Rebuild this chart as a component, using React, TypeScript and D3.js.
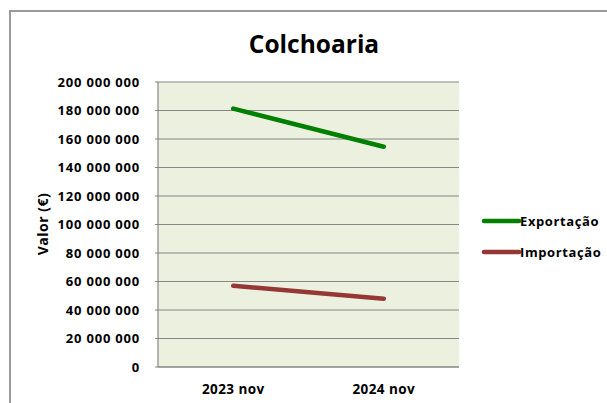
import React from "react";
import * as d3 from "d3";

const categories = ["2023 nov", "2024 nov"];
const exportacao = [181300000, 154600000];
const importacao = [57000000, 47900000];
const yTicks = [0, 20000000, 40000000, 60000000, 80000000, 100000000, 120000000, 140000000, 160000000, 180000000, 200000000];
const seriesNames = ["Exportação", "Importação"];
const seriesColors = ["#008000", "#953735"];

const W = 607, H = 403;
const plot = { left: 158, right: 459, top: 82, bottom: 367 };
const FONT = "'Open Sans', 'Liberation Sans', sans-serif";

function fmt(v: number) {
  if (v === 0) return "0";
  const s = String(v);
  return s.replace(/\B(?=(\d{3})+(?!\d))/g, " ");
}

export default function App() {
  const x = d3.scaleBand<string>().domain(categories).range([plot.left, plot.right]);
  const y = d3.scaleLinear().domain([0, 200000000]).range([plot.bottom, plot.top]);
  const line = d3
    .line<number>()
    .x((_, i) => (x(categories[i]) as number) + x.bandwidth() / 2)
    .y((d) => y(d));
  const series = [exportacao, importacao];
  const legendY = [221, 252];

  return (
    <svg width={W} height={H} style={{ position: "absolute", left: 0, top: 0 }} fontFamily={FONT}>
      <rect x={0} y={0} width={W} height={H} fill="#ffffff" />
      <rect x={10} y={11} width={700} height={500} fill="#ffffff" stroke="#9a9a9a" strokeWidth={2} />
      <text x={314} y={53} textAnchor="middle" fontSize={24.5} fontWeight="bold" fill="#000">
        Colchoaria
      </text>
      <rect x={plot.left} y={plot.top} width={plot.right - plot.left} height={plot.bottom - plot.top} fill="#EBF1DE" />
      {yTicks.map((t) => (
        <g key={t}>
          <line x1={plot.left - 3} x2={plot.right} y1={y(t)} y2={y(t)} stroke="#868686" strokeWidth={1.2} />
          <text x={140} y={y(t)} dy="0.36em" textAnchor="end" fontSize={13} letterSpacing={0.8} fontWeight="bold" fill="#000">
            {fmt(t)}
          </text>
        </g>
      ))}
      <line x1={plot.left} x2={plot.left} y1={plot.top} y2={plot.bottom} stroke="#868686" strokeWidth={1.2} />
      <line x1={plot.left} x2={plot.right} y1={plot.bottom} y2={plot.bottom} stroke="#868686" strokeWidth={1.2} />
      {categories.map((c) => (
        <text key={c} x={(x(c) as number) + x.bandwidth() / 2} y={389} dy="0.35em" textAnchor="middle" fontSize={13.5} letterSpacing={0.4} fontWeight="bold" fill="#000">
          {c}
        </text>
      ))}
      <text transform="translate(43,224) rotate(-90)" textAnchor="middle" dy="0.35em" fontSize={14} letterSpacing={0.5} fontWeight="bold" fill="#000">
        Valor (€)
      </text>
      {series.map((s, i) => (
        <path key={i} d={line(s) || ""} fill="none" stroke={seriesColors[i]} strokeWidth={4.5} strokeLinecap="round" />
      ))}
      {seriesNames.map((n, i) => (
        <g key={n}>
          <line x1={484} x2={519} y1={legendY[i]} y2={legendY[i]} stroke={seriesColors[i]} strokeWidth={4.5} strokeLinecap="round" />
          <text x={520} y={legendY[i]} dy="0.35em" fontSize={13} letterSpacing={0.6} fontWeight="bold" fill="#000">
            {n}
          </text>
        </g>
      ))}
    </svg>
  );
}
